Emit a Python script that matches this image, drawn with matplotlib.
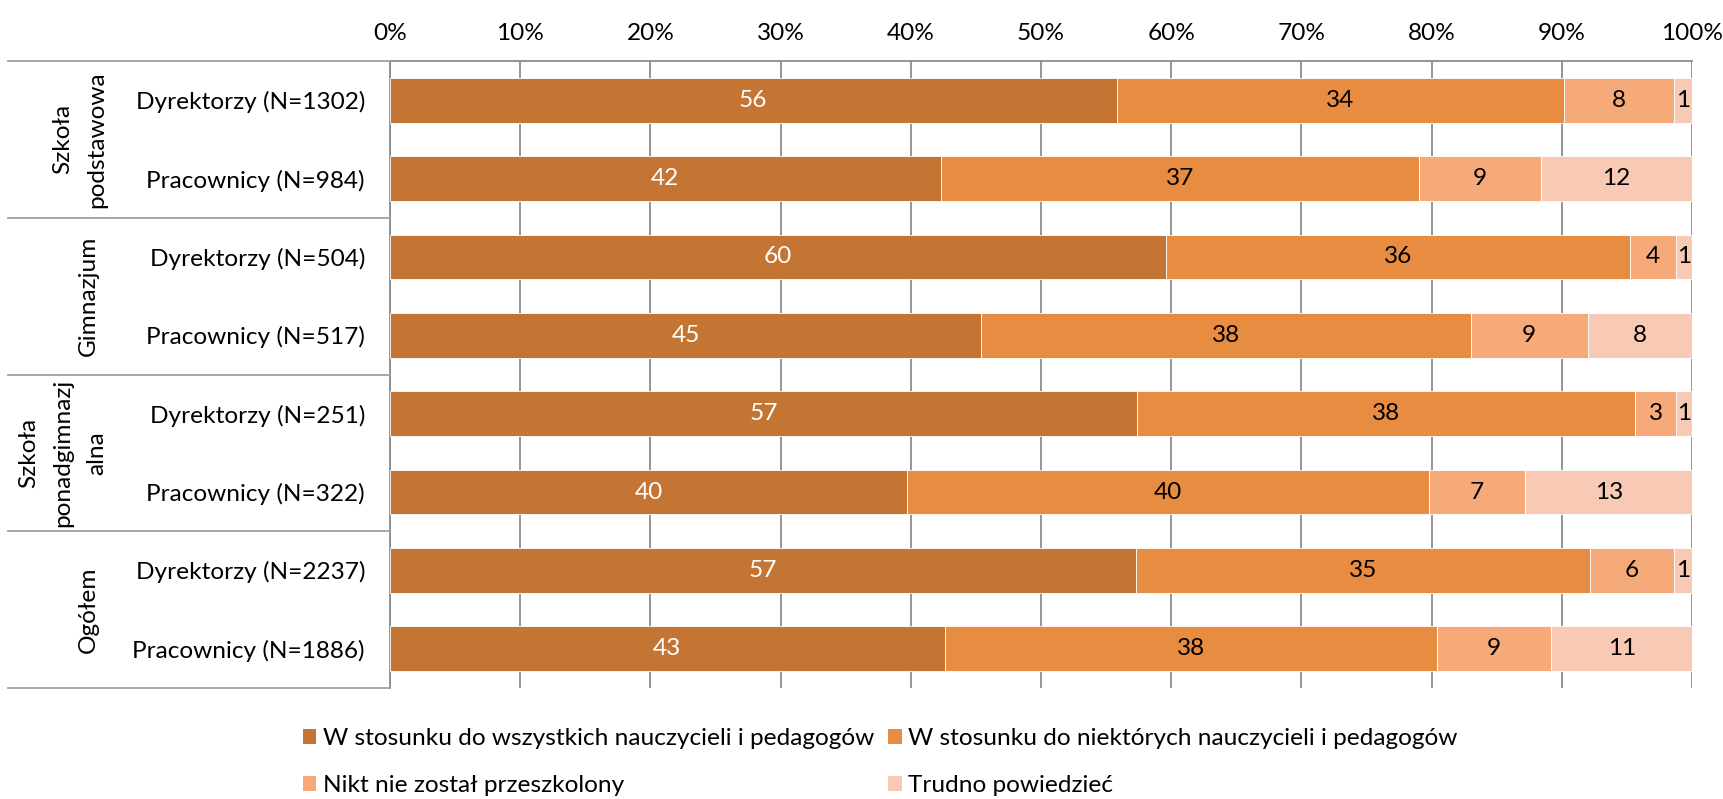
import matplotlib
matplotlib.use("Agg")
import matplotlib.pyplot as plt
import matplotlib.transforms as mtransforms
from matplotlib.lines import Line2D
from matplotlib.patches import Patch
import numpy as np

# Row labels (top to bottom) and their school-type groups
rows = [
    "Dyrektorzy (N=1302)", "Pracownicy (N=984)",
    "Dyrektorzy (N=504)", "Pracownicy (N=517)",
    "Dyrektorzy (N=251)", "Pracownicy (N=322)",
    "Dyrektorzy (N=2237)", "Pracownicy (N=1886)",
]
groups = ["Szkoła\npodstawowa", "Gimnazjum", "Szkoła\nponadgimnazj\nalna", "Ogółem"]

series_names = [
    "W stosunku do wszystkich nauczycieli i pedagogów",
    "W stosunku do niektórych nauczycieli i pedagogów",
    "Nikt nie został przeszkolony",
    "Trudno powiedzieć",
]

# Percentages per row for each answer
all_staff = [55.8, 42.3, 59.6, 45.4, 57.4, 39.7, 57.3, 42.6]
some_staff = [34.4, 36.7, 35.6, 37.6, 38.2, 40.1, 34.9, 37.8]
nobody = [8.4, 9.4, 3.6, 9.0, 3.2, 7.4, 6.4, 8.8]
hard_to_say = [1.4, 11.6, 1.2, 8.0, 1.2, 12.8, 1.4, 10.8]

colors = ["#C47533", "#E88C42", "#F6AA7A", "#F8CAB5"]
label_colors = ["white", "black", "black", "black"]

FONT = "Lato"
FS = 17.6
plt.rcParams["font.family"] = [FONT, "DejaVu Sans"]

W, H = 1723, 799
fig = plt.figure(figsize=(W / 100, H / 100), dpi=100)
ax = fig.add_axes([390 / W, 1 - 688 / H, (1692 - 390) / W, (688 - 61) / H])

y = np.arange(len(rows))
left = np.zeros(len(rows))
for vals, col, lcol in zip([all_staff, some_staff, nobody, hard_to_say], colors, label_colors):
    vals = np.array(vals)
    bars = ax.barh(y, vals, left=left, height=0.57, color=col,
                   edgecolor="white", linewidth=0.6, zorder=3)
    ax.bar_label(bars, labels=[f"{v:.0f}" for v in vals], label_type="center",
                 color=lcol, fontsize=FS, zorder=4)
    left += vals

ax.set_xlim(0, 100)
ax.set_ylim(len(rows) - 0.5, -0.5)
ax.set_xticks(np.arange(0, 101, 10))
ax.set_xticklabels([f"{t}%" for t in range(0, 101, 10)], fontsize=FS)
ax.xaxis.tick_top()
ax.tick_params(axis="x", length=0, pad=12)
ax.set_yticks(y)
ax.set_yticklabels(rows, fontsize=FS)
ax.tick_params(axis="y", length=0, pad=18)
ax.grid(axis="x", color="#8C8C8C", linewidth=1.3, zorder=0)

for side in ["right", "bottom"]:
    ax.spines[side].set_visible(False)
for side in ["left", "top"]:
    ax.spines[side].set_color("#8C8C8C")
    ax.spines[side].set_linewidth(1.3)

# Group separators extending into the label area
trans = mtransforms.blended_transform_factory(fig.transFigure, ax.transData)
for yb in [-0.5, 1.5, 3.5, 5.5, 7.5]:
    fig.add_artist(Line2D([8 / W, 390 / W], [yb, yb], transform=trans,
                          color="#A0A0A0", linewidth=1.3))

# Group labels, rotated; wrapped lines are stacked leftwards from the last one
line_step = 34
for i, g in enumerate(groups):
    lines = g.split("\n")
    n = len(lines)
    last_x = 88 if n == 1 else 97
    for k, line in enumerate(lines):
        x_px = last_x - (n - 1 - k) * line_step
        ax.text(x_px / W, 2 * i + 0.5, line, transform=trans, rotation=90,
                ha="center", va="center", fontsize=FS)

# Legend: two rows, two columns
handles = [Patch(facecolor=c, edgecolor="none") for c in colors]
order = [0, 2, 1, 3]
fig.legend([handles[i] for i in order], [series_names[i] for i in order],
           ncol=2, loc="center left", bbox_to_anchor=(303 / W, 1 - 762 / H),
           frameon=False, fontsize=FS, handlelength=0.55, handleheight=0.55,
           handletextpad=0.25, columnspacing=0.6, labelspacing=1.05,
           borderpad=0, borderaxespad=0)

fig.savefig("out.png", dpi=100)
